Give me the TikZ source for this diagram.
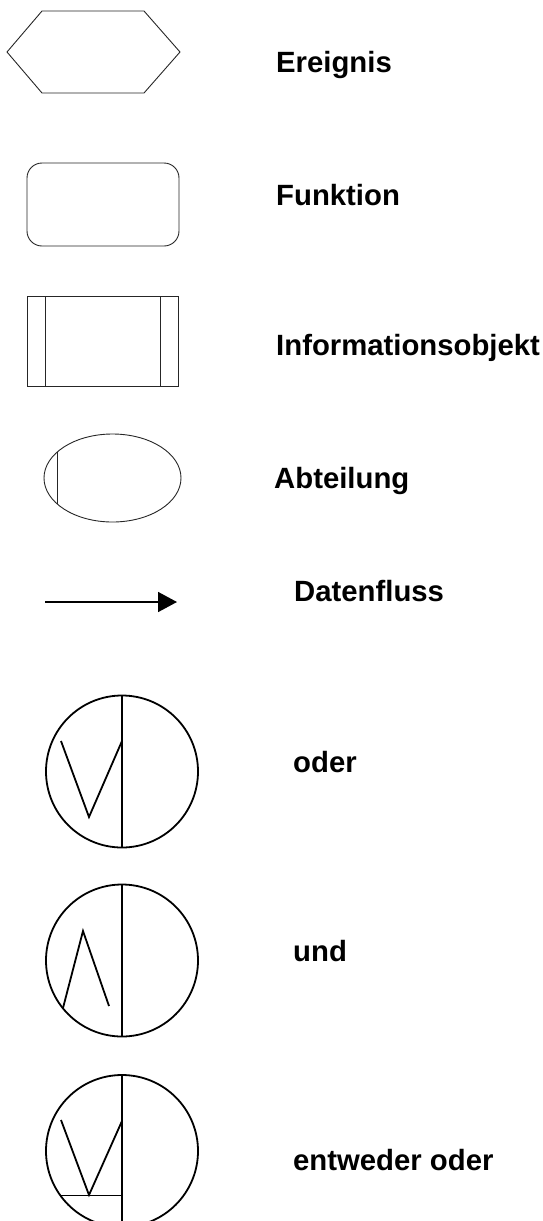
\documentclass[tikz,border=0pt]{standalone}
\usepackage{fontspec}
\setmainfont{Liberation Sans}
\usetikzlibrary{arrows.meta}
\begin{document}
\begin{tikzpicture}[x=1pt,y=-1pt,
  thin shape/.style={draw=black!85, line width=0.9pt},
  thick shape/.style={draw=black, line width=1.8pt},
  label/.style={anchor=base west, inner sep=0pt, font=\fontsize{29.3}{34}\selectfont\bfseries}]
\useasboundingbox (0,0) rectangle (543,1221);
\clip (0,0) rectangle (543,1221);
% Ereignis
\draw[thin shape] (7,52) -- (42,11) -- (144,11) -- (180,52) -- (144,93) -- (42,93) -- cycle;
\node[label] (ereignis) at (276,72.7) {Ereignis};
% Funktion
\draw[thin shape, rounded corners=15pt] (27,163) rectangle (179,246);
\node[label] (funktion) at (276,205) {Funktion};
% Informationsobjekt
\draw[thin shape] (27,296) rectangle (178,386);
\draw[thin shape] (45,296) -- (45,386);
\draw[thin shape] (160,296) -- (160,386);
\node[label] (info) at (276,355) {Informationsobjekt};
% Abteilung
\draw[thin shape] (112.5,478) ellipse [x radius=68.5, y radius=44];
\draw[thin shape] (57,452) -- (57,504);
\node[label] (abteilung) at (274,488.3) {Abteilung};
% Datenfluss
\coordinate (a1) at (45,602);
\coordinate (a2) at (177,602);
\draw[line width=1.6pt, -{Triangle[length=19pt,width=20pt]}] (a1) -- (a2);
\node[label] (datenfluss) at (294,601) {Datenfluss};
% oder
\draw[thick shape] (122,771.5) circle [radius=76];
\draw[thick shape] (122,695.5) -- (122,847.5);
\draw[thick shape] (61,741) -- (89,817) -- (122,741);
\node[label] (oder) at (293,772.3) {oder};
% und
\draw[thick shape] (122,960.5) circle [radius=76];
\draw[thick shape] (122,884.5) -- (122,1036.5);
\draw[thick shape] (63,1008) -- (83,931) -- (109,1006);
\node[label] (und) at (293,961) {und};
% entweder oder
\draw[thick shape] (122,1151) circle [radius=76];
\draw[thick shape] (122,1075) -- (122,1230);
\draw[thick shape] (61,1120) -- (89,1195) -- (122,1121);
\draw[thick shape] (61,1195.5) -- (122,1195.5);
\node[label] (xor) at (293,1170) {entweder oder};
\end{tikzpicture}
\end{document}
